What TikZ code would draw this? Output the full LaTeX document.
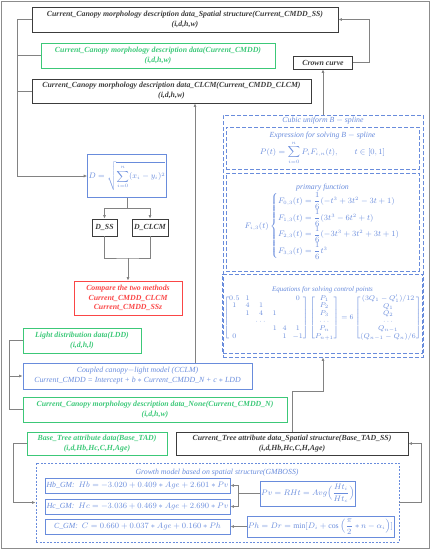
\documentclass[tikz,border=0pt]{standalone}
\usepackage{amsmath}
\usepackage{fontspec}
\setmainfont{Liberation Serif}
\usetikzlibrary{positioning,arrows.meta}
\definecolor{darkline}{RGB}{60,60,60}
\definecolor{boxgreen}{RGB}{60,200,120}
\definecolor{boxblue}{RGB}{105,140,220}
\definecolor{boxred}{RGB}{250,70,70}
\definecolor{linegray}{RGB}{130,130,130}
\definecolor{framegray}{RGB}{140,140,140}
\tikzset{
>={Latex[length=3.5pt,width=3pt]},
box/.style={draw, line width=0.8pt, align=center, inner sep=1pt, font=\fontsize{7.8}{9.8}\selectfont\bfseries\itshape},
blackbox/.style={box, draw=darkline, text=darkline},
greenbox/.style={box, draw=boxgreen, text=boxgreen},
redbox/.style={box, draw=boxred, text=boxred},
bluebox/.style={box, draw=boxblue, text=boxblue, font=\fontsize{7.8}{9.8}\selectfont\itshape},
bluetext/.style={align=center, inner sep=1pt, text=boxblue, font=\fontsize{7.8}{9.8}\selectfont\itshape},
dashbox/.style={bluebox, dash pattern=on 4pt off 2pt},
gmbox/.style={draw=boxblue, line width=0.8pt, dash pattern=on 2pt off 1.5pt},
link/.style={draw=linegray, line width=0.8pt},
}

\begin{document}
\begin{tikzpicture}[x=1pt,y=-1pt]
        \useasboundingbox (0,0) rectangle (431,550);
        \draw[framegray, line width=1.2pt] (1.5,1.5) rectangle (429.5,548.5);

        \node[blackbox, minimum width=306pt, minimum height=25pt] (ss) at (185,19.5) {Current\_Canopy morphology description data\_Spatial structure(Current\_CMDD\_SS)\\(i,d,h,w)};
        \node[greenbox, minimum width=234pt, minimum height=25pt] (cmdd) at (158,55.5) {Current\_Canopy morphology description data(Current\_CMDD)\\(i,d,h,w)};
        \node[blackbox, minimum width=279pt, minimum height=24pt] (clcm) at (171.5,91) {Current\_Canopy morphology description data\_CLCM(Current\_CMDD\_CLCM)\\(i,d,h,w)};
        \node[blackbox, minimum width=59pt, minimum height=13pt] (crown) at (323,62.5) {Crown curve};

        \node[bluebox, minimum width=78pt, minimum height=43pt] (dist) at (127,176) {$\displaystyle D=\sqrt{\sum_{i=0}^{n}(x_i-y_i)^2}$};
        \node[blackbox, minimum width=25pt, minimum height=17pt] (dss) at (104.5,227.5) {D\_SS};
        \node[blackbox, minimum width=36pt, minimum height=17pt] (dclcm) at (150,227.5) {D\_CLCM};
        \node[redbox, minimum width=108pt, minimum height=34pt] (compare) at (128,298) {Compare the two methods\\Current\_CMDD\_CLCM\\Current\_CMDD\_SSz};
        \coordinate (cmpjoin) at (128,258);

        \node[greenbox, minimum width=118pt, minimum height=25pt] (ldd) at (82,340.5) {Light distribution data(LDD)\\(i,d,h,l)};
        \node[bluebox, minimum width=229pt, minimum height=26pt] (cclm) at (137.5,376) {Coupled canopy$-$light model (CCLM)\\Current\_CMDD = Intercept + b $\ast$ Current\_CMDD\_N + c $\ast$ LDD};
        \node[greenbox, minimum width=264pt, minimum height=25pt] (cmddn) at (155,409.5) {Current\_Canopy morphology description data\_None(Current\_CMDD\_N)\\(i,d,h,w)};

        \node[dashbox, minimum width=200pt, minimum height=242pt] (cubic) at (323,236) {};
        \node[bluetext] (cubictitle) at (323,121) {Cubic uniform B $-$ spline};
        \node[dashbox, minimum width=193pt, minimum height=42pt] (expr) at (322.5,148) {Expression for solving B $-$ spline\\[1pt]
            $\displaystyle P(t)=\sum_{i=0}^{n}P_iF_{i,n}(t),\qquad t\in[0,1]$};
        \node[dashbox, minimum width=193pt, minimum height=98pt] (primary) at (322.5,222) {primary function\\
            $F_{i,3}(t)\left\{\begin{array}{@{}l@{}}
            F_{0,3}(t)=\dfrac{1}{6}(-t^3+3t^2-3t+1)\\[1pt]
            F_{1,3}(t)=\dfrac{1}{6}(3t^3-6t^2+t)\\[1pt]
            F_{2,3}(t)=\dfrac{1}{6}(-3t^3+3t^2+3t+1)\\[1pt]
            F_{3,3}(t)=\dfrac{1}{6}t^3
            \end{array}\right.$};
        \node[dashbox, minimum width=193pt, minimum height=79pt, font=\fontsize{7}{8.4}\selectfont\itshape] (ctrl) at (322.5,313.5) {Equations for solving control points\\[1pt]
            \setlength{\arraycolsep}{3pt}\renewcommand{\arraystretch}{0.9}%
            $\begin{bmatrix}0.5&1&&&&0\\1&4&1&&&\\&1&4&1&&\\&&\cdots&&&\\&&&1&4&1\\0&&&&1&-1\end{bmatrix}
            \begin{bmatrix}P_1\\P_2\\P_3\\\cdots\\P_n\\P_{n+1}\end{bmatrix}
            =6\begin{bmatrix}(3Q_1-Q_1')/12\\Q_1\\Q_2\\\cdots\\Q_{n-1}\\(Q_{n-1}-Q_n)/6\end{bmatrix}$};

        \node[greenbox, minimum width=140pt, minimum height=23pt] (basetad) at (97,443.5) {Base\_Tree attribute data(Base\_TAD)\\(i,d,Hb,Hc,C,H,Age)};
        \node[blackbox, minimum width=232pt, minimum height=23pt] (tadss) at (292,443.5) {Current\_Tree attribute data\_Spatial structure(Base\_TAD\_SS)\\(i,d,Hb,Hc,C,H,Age)};

        \node[gmbox, minimum width=363pt, minimum height=79pt] (gmboss) at (217.5,502.5) {};
        \node[bluetext] (gmtitle) at (217,473) {Growth model based on spatial structure(GMBOSS)};
        \node[bluebox, minimum width=185pt, minimum height=15pt] (hbgm) at (137.5,485.5) {Hb\_GM:\ \ $Hb=-3.020+0.409\ast Age+2.601\ast Pv$};
        \node[bluebox, minimum width=185pt, minimum height=15pt] (hcgm) at (137.5,506.5) {Hc\_GM:\ \ $Hc=-3.036+0.469\ast Age+2.690\ast Pv$};
        \node[bluebox, minimum width=185pt, minimum height=15pt] (cgm) at (137.5,526.5) {C\_GM:\ \ $C=0.660+0.037\ast Age+0.160\ast Ph$};
        \node[bluebox, minimum width=70pt, minimum height=25pt] (pv) at (308,493.5) {$Pv=RHt=Avg\Big(\dfrac{Ht_i}{Ht_c}\Big)$};
        \node[bluebox, minimum width=145pt, minimum height=21pt] (ph) at (320.5,526.5) {$Ph=Dr=\min[D_i+\cos\Big(\dfrac{\pi}{2}\ast n-\alpha_i\Big)]$};

        \coordinate (lbus) at (17,0);
        \coordinate (mbus) at (9,0);
        \coordinate (upcol) at (195,0);

        \draw[link,->] (crown.east) -- ++(16,0) |- (ss.east);
        \draw[link,->] (cubic.north) -- (crown.south);
        \draw[link,->] (cclm.north -| upcol) -- (clcm.south -| upcol);
        \draw[link,->] (ss.west) -- (ss.west -| lbus) -- (dist.west -| lbus) -- (dist.west);
        \draw[link] (cmdd.west) -- (cmdd.west -| lbus);
        \draw[link] (clcm.west) -- (clcm.west -| lbus);
        \draw[link,->] (dist.south) -- ++(0,10) -| (dss.north);
        \draw[link,->] (dist.south) -- ++(0,10) -| (dclcm.north);
        \draw[link] (dss.south) |- (cmpjoin) -| (dclcm.south);
        \draw[link,->] (cmpjoin) -- (compare.north);
        \draw[link] (ldd.west) -- (ldd.west -| mbus) -- (cmddn.west -| mbus) -- (cmddn.west);
        \draw[link,->] (cclm.west -| mbus) -- (cclm.west);
        \draw[link,->] (tadss.north) -- ++(0,-40) -| (cubic.south);
        \draw[link,->] (basetad.west) -- ++(-13,0) |- (gmboss.west);
        \draw[link,->] (gmboss.east) -- ++(22,0) |- (tadss.east);
        \draw[link,->] (pv.west) -- ++(-21,0) |- (hbgm.east);
        \draw[link,->] (pv.west) -- ++(-21,0) |- (hcgm.east);
        \draw[link,->] (ph.west) -- (cgm.east);

    \end{tikzpicture}
\end{document}
